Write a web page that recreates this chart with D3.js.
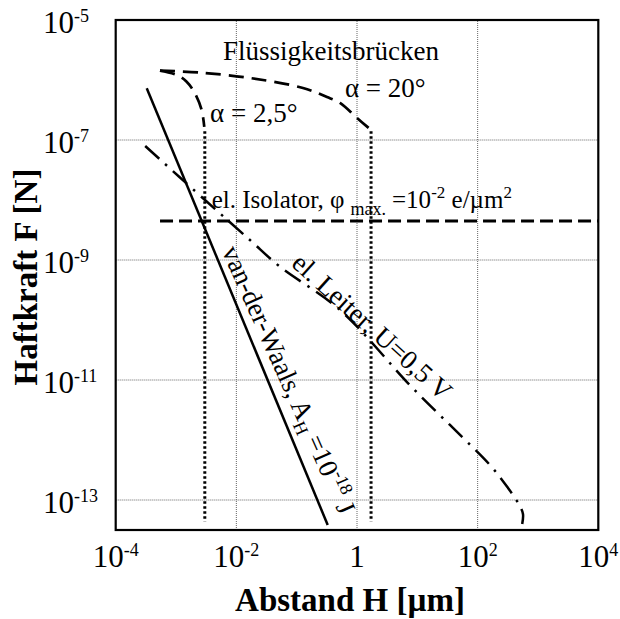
<!DOCTYPE html>
<html>
<head>
<meta charset="utf-8">
<script src="https://cdn.jsdelivr.net/npm/d3@7"></script>
<style>
body { margin: 0; background: #fff; }
text { font-family: "Liberation Serif", "Times New Roman", serif; fill: #000; }
</style>
</head>
<body>
<svg width="620" height="619"></svg>
<script>
//Axis ticks and labels
var xTicks = [1e-4, 1e-2, 1, 1e2, 1e4];
var xTickLabels = [['10', '-4'], ['10', '-2'], ['1', ''], ['10', '2'], ['10', '4']];
var yTicks = [1e-5, 1e-7, 1e-9, 1e-11, 1e-13];
var yTickLabels = [['10', '-5'], ['10', '-7'], ['10', '-9'], ['10', '-11'], ['10', '-13']];
var xGrid = [1e-2, 1, 1e2];
var yGrid = [1e-7, 1e-9, 1e-11, 1e-13];

//van-der-Waals (solid)
var vdwH = [3.27e-4, 0.327];
var vdwF = [7.28e-7, 3.83e-14];

//el. Isolator (dashed, horizontal)
var isoH = [5.43e-4, 1e4];
var isoF = [4.47e-9, 4.47e-9];

//el. Leiter (dash-dot)
var leiterH = [3.08e-4, 3.02e-3, 1.68e-2, 5.28e-2, 0.522, 8.05, 42.1, 160, 321, 400, 490, 564, 548];
var leiterF = [7.94e-8, 1e-8, 2.15e-9, 7.73e-10, 1.47e-10, 7.64e-12, 1.47e-12, 3.83e-13, 1.57e-13, 1.14e-13, 8.26e-14, 5.85e-14, 3.98e-14];

//Fluessigkeitsbruecken alpha = 20 deg (dashed)
var a20H = [5.42e-4, 2.49e-3, 1.79e-2, 0.127, 0.318, 0.522, 1.0, 1.71];
var a20F = [1.43e-6, 1.33e-6, 1.07e-6, 7.36e-7, 5.21e-7, 4.14e-7, 2.33e-7, 1.47e-7];

//Fluessigkeitsbruecken alpha = 2.5 deg (dashed)
var a25H = [5.42e-4, 1.03e-3, 1.50e-3, 2.06e-3, 2.66e-3, 2.94e-3];
var a25F = [1.43e-6, 1.21e-6, 9.38e-7, 6.0e-7, 3.16e-7, 1.65e-7];

//dotted limits below the bridges
var limitH = [3.0e-3, 1.71];
var limitF = [1.4e-7, 4.4e-14];

//SVG Parameters
var svg = d3.select('svg');
var x = d3.scaleLog().domain([1e-4, 1e4]).range([115.7, 598.3]);
var y = d3.scaleLog().domain([Math.pow(10, -13.5), 1e-5]).range([530, 20]);

var line = d3.line()
    .x(function(d) { return x(d[0]); })
    .y(function(d) { return y(d[1]); });
var curve = d3.line()
    .curve(d3.curveCatmullRom)
    .x(function(d) { return x(d[0]); })
    .y(function(d) { return y(d[1]); });

//grid
svg.selectAll('.xgrid')
    .data(xGrid)
    .enter().append('line')
    .attr('class', 'xgrid')
    .attr('x1', function(d) { return x(d); })
    .attr('x2', function(d) { return x(d); })
    .attr('y1', y.range()[0])
    .attr('y2', y.range()[1])
    .attr('stroke', '#666')
    .attr('stroke-width', 1)
    .attr('stroke-dasharray', '1,1');
svg.selectAll('.ygrid')
    .data(yGrid)
    .enter().append('line')
    .attr('class', 'ygrid')
    .attr('y1', function(d) { return y(d); })
    .attr('y2', function(d) { return y(d); })
    .attr('x1', x.range()[0])
    .attr('x2', x.range()[1])
    .attr('stroke', '#666')
    .attr('stroke-width', 1)
    .attr('stroke-dasharray', '1,1');

//curves
svg.append('path')
    .attr('d', line(d3.zip(vdwH, vdwF)))
    .attr('fill', 'none').attr('stroke', '#000').attr('stroke-width', 2.5);
svg.append('path')
    .attr('d', line(d3.zip(isoH, isoF)))
    .attr('fill', 'none').attr('stroke', '#000').attr('stroke-width', 3)
    .attr('stroke-dasharray', '13,6');
svg.append('path')
    .attr('d', curve(d3.zip(leiterH, leiterF)))
    .attr('fill', 'none').attr('stroke', '#000').attr('stroke-width', 2.5)
    .attr('stroke-dasharray', '19,8,2.5,8');
svg.append('path')
    .attr('d', curve(d3.zip(a20H, a20F)))
    .attr('fill', 'none').attr('stroke', '#000').attr('stroke-width', 2.7)
    .attr('stroke-dasharray', '15,8');
svg.append('path')
    .attr('d', curve(d3.zip(a25H, a25F)))
    .attr('fill', 'none').attr('stroke', '#000').attr('stroke-width', 2.7)
    .attr('stroke-dasharray', '15,8');
limitH.forEach(function(h) {
    svg.append('path')
        .attr('d', line([[h, limitF[0]], [h, limitF[1]]]))
        .attr('fill', 'none').attr('stroke', '#000').attr('stroke-width', 3)
        .attr('stroke-dasharray', '2.5,2.5');
});

//frame
svg.append('rect')
    .attr('x', x.range()[0])
    .attr('y', y.range()[1])
    .attr('width', x.range()[1] - x.range()[0])
    .attr('height', y.range()[0] - y.range()[1])
    .attr('fill', 'none')
    .attr('stroke', '#000')
    .attr('stroke-width', 2.2);

//tick labels
xTicks.forEach(function(t, i) {
    var txt = svg.append('text')
        .attr('x', x(t))
        .attr('y', 567)
        .attr('text-anchor', 'middle');
    txt.append('tspan').attr('font-size', 31).text(xTickLabels[i][0]);
    if (xTickLabels[i][1]) {
        txt.append('tspan').attr('font-size', 18).attr('dy', -11).text(xTickLabels[i][1]);
    }
});
yTicks.forEach(function(t, i) {
    var txt = svg.append('text')
        .attr('x', 43)
        .attr('y', y(t) + 13);
    txt.append('tspan').attr('font-size', 31).text(yTickLabels[i][0]);
    txt.append('tspan').attr('font-size', 18).attr('dy', -11).text(yTickLabels[i][1]);
});

//axis titles
svg.append('text')
    .attr('x', 350)
    .attr('y', 611)
    .attr('text-anchor', 'middle')
    .attr('font-size', 33)
    .attr('font-weight', 'bold')
    .text('Abstand H [µm]');
svg.append('text')
    .attr('transform', 'translate(' + [37, 277] + ')rotate(-90)')
    .attr('text-anchor', 'middle')
    .attr('font-size', 33)
    .attr('font-weight', 'bold')
    .text('Haftkraft F [N]');

//annotations
svg.append('text')
    .attr('x', x(6.0e-3)).attr('y', y(2.15e-6))
    .attr('font-size', 27)
    .text('Flüssigkeitsbrücken');
svg.append('text')
    .attr('x', x(3.66e-3)).attr('y', y(2.02e-7))
    .attr('font-size', 27)
    .text('α = 2,5°');
svg.append('text')
    .attr('x', x(0.632)).attr('y', y(5.21e-7))
    .attr('font-size', 27)
    .text('α = 20°');

var iso = svg.append('text')
    .attr('x', x(3.9e-3)).attr('y', y(7.36e-9))
    .attr('font-size', 25);
iso.append('tspan').text('el. Isolator, φ');
iso.append('tspan').attr('font-size', 18).attr('dy', 7).attr('dx', 6).text('max.');
iso.append('tspan').attr('dy', -7).attr('dx', 6).text('=10');
iso.append('tspan').attr('font-size', 17).attr('dy', -10).text('-2');
iso.append('tspan').attr('dy', 10).text(' e/µm');
iso.append('tspan').attr('font-size', 17).attr('dy', -10).text('2');

var vdw = svg.append('text')
    .attr('transform', 'translate(' + [x(5.69e-3), y(1.42e-9)] + ')rotate(66)')
    .attr('font-size', 27);
vdw.append('tspan').text('van-der-Waals, A');
vdw.append('tspan').attr('font-size', 18).attr('dy', 6).text('H');
vdw.append('tspan').attr('dy', -6).attr('dx', 6).text('=10');
vdw.append('tspan').attr('font-size', 18).attr('dy', -11).text('-18');
vdw.append('tspan').attr('dy', 11).text(' J');

svg.append('text')
    .attr('transform', 'translate(' + [x(7.83e-2), y(8.19e-10)] + ')rotate(42)')
    .attr('font-size', 27)
    .text('el. Leiter, U=0,5 V');
</script>
</body>
</html>
